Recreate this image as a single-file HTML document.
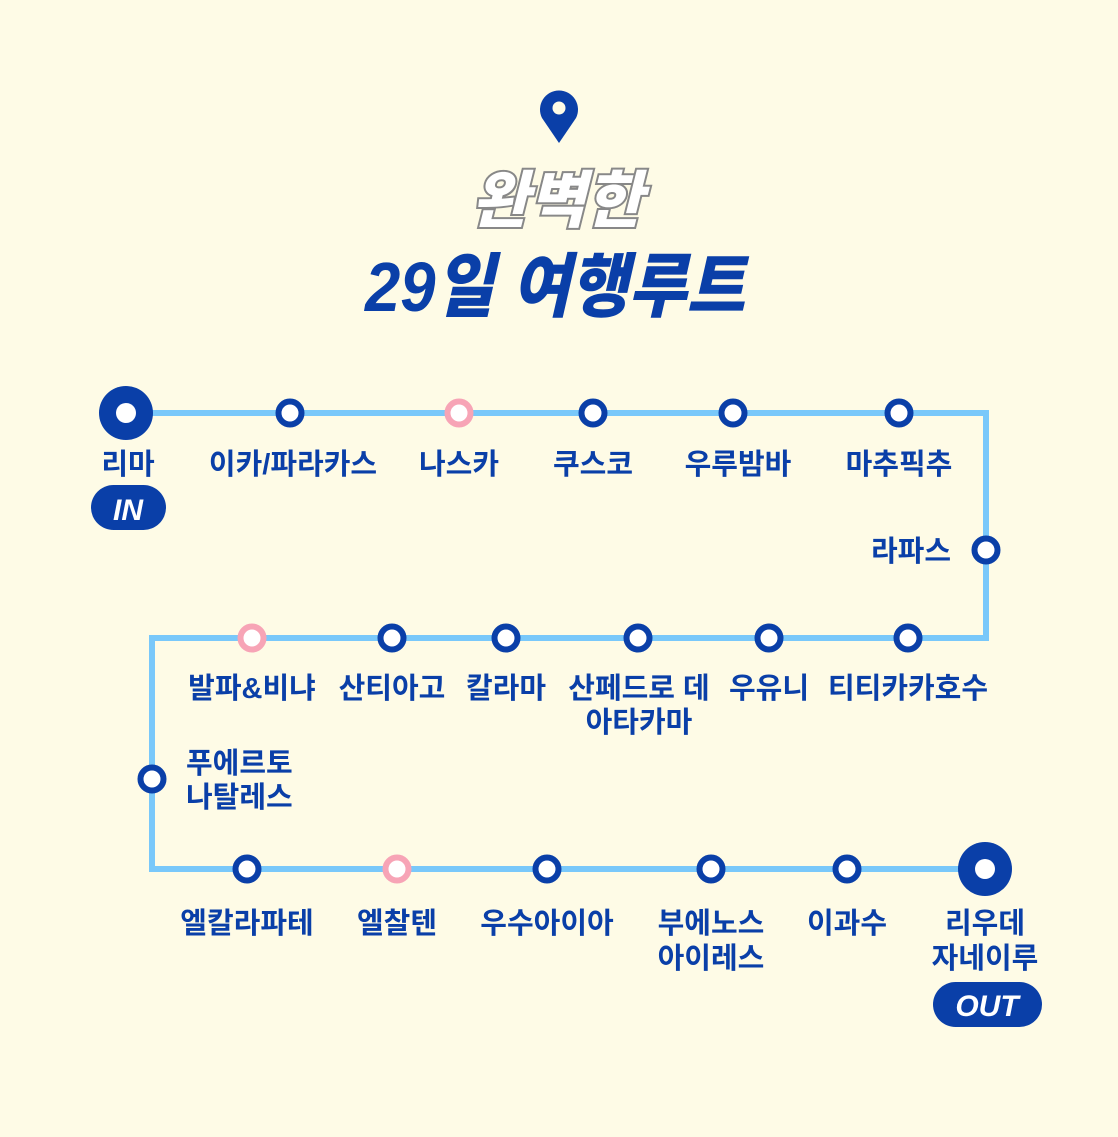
<!DOCTYPE html>
<html><head><meta charset="utf-8"><style>
html,body{margin:0;padding:0;background:#fefbe6;}
svg{display:block}
text{font-family:"Liberation Sans","Noto Sans CJK KR",sans-serif;font-weight:700;fill:#0a3fa8;}
</style></head><body>
<svg width="1118" height="1137" viewBox="0 0 1118 1137">
<rect width="1118" height="1137" fill="#fefbe6"/>
<!-- pin -->
<path d="M559 143 L542 118 A19 19 0 1 1 576 118 Z" fill="#0a3fa8"/>
<circle cx="559" cy="108" r="6.5" fill="#fefbe6"/>
<!-- title -->
<text x="557" y="222" text-anchor="middle" font-size="62" font-style="italic" style="fill:#fff;stroke:#888;stroke-width:4;font-weight:900;paint-order:stroke">완벽한</text>
<text x="555" y="311" text-anchor="middle" font-size="70" font-style="italic" textLength="380" lengthAdjust="spacingAndGlyphs" style="font-weight:900">29일 여행루트</text>
<!-- line -->
<polyline points="126,413 986,413 986,638 152,638 152,869 985,869" fill="none" stroke="#79c8fa" stroke-width="6"/>
<g fill="#fff" stroke="#0a3fa8" stroke-width="6">
<circle cx="290" cy="413" r="11.5"/><circle cx="593" cy="413" r="11.5"/><circle cx="733" cy="413" r="11.5"/><circle cx="899" cy="413" r="11.5"/>
<circle cx="986" cy="550" r="11.5"/>
<circle cx="908" cy="638" r="11.5"/><circle cx="769" cy="638" r="11.5"/><circle cx="638" cy="638" r="11.5"/><circle cx="506" cy="638" r="11.5"/><circle cx="392" cy="638" r="11.5"/>
<circle cx="152" cy="779" r="11.5"/>
<circle cx="247" cy="869" r="11.5"/><circle cx="547" cy="869" r="11.5"/><circle cx="711" cy="869" r="11.5"/><circle cx="847" cy="869" r="11.5"/>
</g>
<g fill="#fff" stroke="#f7a4b6" stroke-width="6">
<circle cx="459" cy="413" r="11.5"/><circle cx="252" cy="638" r="11.5"/><circle cx="397" cy="869" r="11.5"/>
</g>
<circle cx="126" cy="413" r="27" fill="#0a3fa8"/><circle cx="126" cy="413" r="10" fill="#fff"/>
<circle cx="985" cy="869" r="27" fill="#0a3fa8"/><circle cx="985" cy="869" r="10" fill="#fff"/>
<!-- labels -->
<g font-size="29" text-anchor="middle">
<text x="128" y="474">리마</text>
<text x="293" y="474">이카/파라카스</text>
<text x="459" y="474">나스카</text>
<text x="593" y="474">쿠스코</text>
<text x="738" y="474">우루밤바</text>
<text x="899" y="474">마추픽추</text>
<text x="951" y="561" text-anchor="end">라파스</text>
<text x="252" y="698">발파&amp;비냐</text>
<text x="392" y="698">산티아고</text>
<text x="506" y="698">칼라마</text>
<text x="639" y="698">산페드로 데</text>
<text x="639" y="732">아타카마</text>
<text x="769" y="698">우유니</text>
<text x="908" y="698">티티카카호수</text>
<text x="186" y="773" text-anchor="start">푸에르토</text>
<text x="186" y="807" text-anchor="start">나탈레스</text>
<text x="247" y="933">엘칼라파테</text>
<text x="397" y="933">엘찰텐</text>
<text x="547" y="933">우수아이아</text>
<text x="711" y="933">부에노스</text>
<text x="711" y="968">아이레스</text>
<text x="847" y="933">이과수</text>
<text x="985" y="933">리우데</text>
<text x="985" y="968">자네이루</text>
</g>
<rect x="91" y="485" width="75" height="45" rx="22.5" fill="#0a3fa8"/>
<text x="128" y="520" text-anchor="middle" font-size="30" font-style="italic" style="fill:#fff;font-weight:700">IN</text>
<rect x="933" y="982" width="109" height="45" rx="22.5" fill="#0a3fa8"/>
<text x="987" y="1016" text-anchor="middle" font-size="30" font-style="italic" style="fill:#fff;font-weight:700">OUT</text>
</svg>
</body></html>
